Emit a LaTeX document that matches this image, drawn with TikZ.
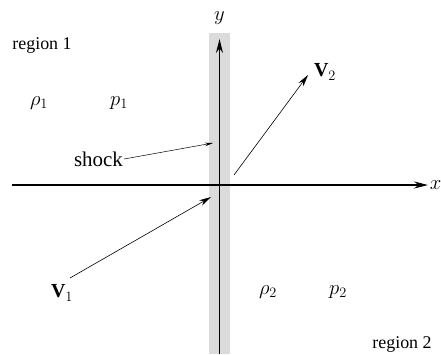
\documentclass[tikz,border=0pt]{standalone}
\usepackage{fontspec}
\setmainfont{Liberation Serif}
\usetikzlibrary{arrows.meta}
\begin{document}
\begin{tikzpicture}[x=1bp, y=-1bp, line cap=butt, line join=miter,
	axis/.style={line width=1.1bp, -{Stealth[length=14bp,width=7bp]}},
	vec/.style={line width=0.6bp, -{Stealth[length=12bp,width=6bp]}},
	lbl/.style={font=\fontsize{20}{24}\selectfont, inner sep=0pt},
	reg/.style={font=\fontsize{18}{22}\selectfont, inner sep=0pt}]
	\useasboundingbox (0,0) rectangle (441,354);
	\fill[gray!28] (209,33) rectangle (230,354);
	\coordinate (xl) at (12,185); \coordinate (xr) at (428,185);
	\coordinate (yb) at (219.5,354); \coordinate (yt) at (219.5,39);
	\draw[axis] (xl) -- (xr);
	\draw[axis] (yb) -- (yt);
	\node[lbl] (xlab) at (435.5,185) {$x$};
	\node[lbl] (ylab) at (219.5,18) {$y$};
	\node[reg] (reg1) at (42,45) {region 1};
	\node[reg] (reg2) at (402,344) {region 2};
	\node[lbl] (rho1) at (39,103) {$\rho_1$};
	\node[lbl] (p1) at (119,103) {$p_1$};
	\node[lbl] (rho2) at (268,292) {$\rho_2$};
	\node[lbl] (p2) at (338,292) {$p_2$};
	\node[font=\fontsize{21}{25}\selectfont, inner sep=1pt] (shock) at (98.5,159) {shock};
	\node[lbl] (V1) at (62,293) {$\mathbf{V}_1$};
	\node[lbl] (V2) at (325,72) {$\mathbf{V}_2$};
	\coordinate (sk) at (213,143);
	\coordinate (v1e) at (211,197); \coordinate (v1s) at (70,278);
	\coordinate (v2s) at (234,175); \coordinate (v2e) at (308,75);
	\draw[line width=0.5bp, -{Stealth[length=8bp,width=3.5bp]}] (shock.east) -- (sk);
	\draw[vec] (v1s) -- (v1e);
	\draw[vec] (v2s) -- (v2e);
\end{tikzpicture}
\end{document}
